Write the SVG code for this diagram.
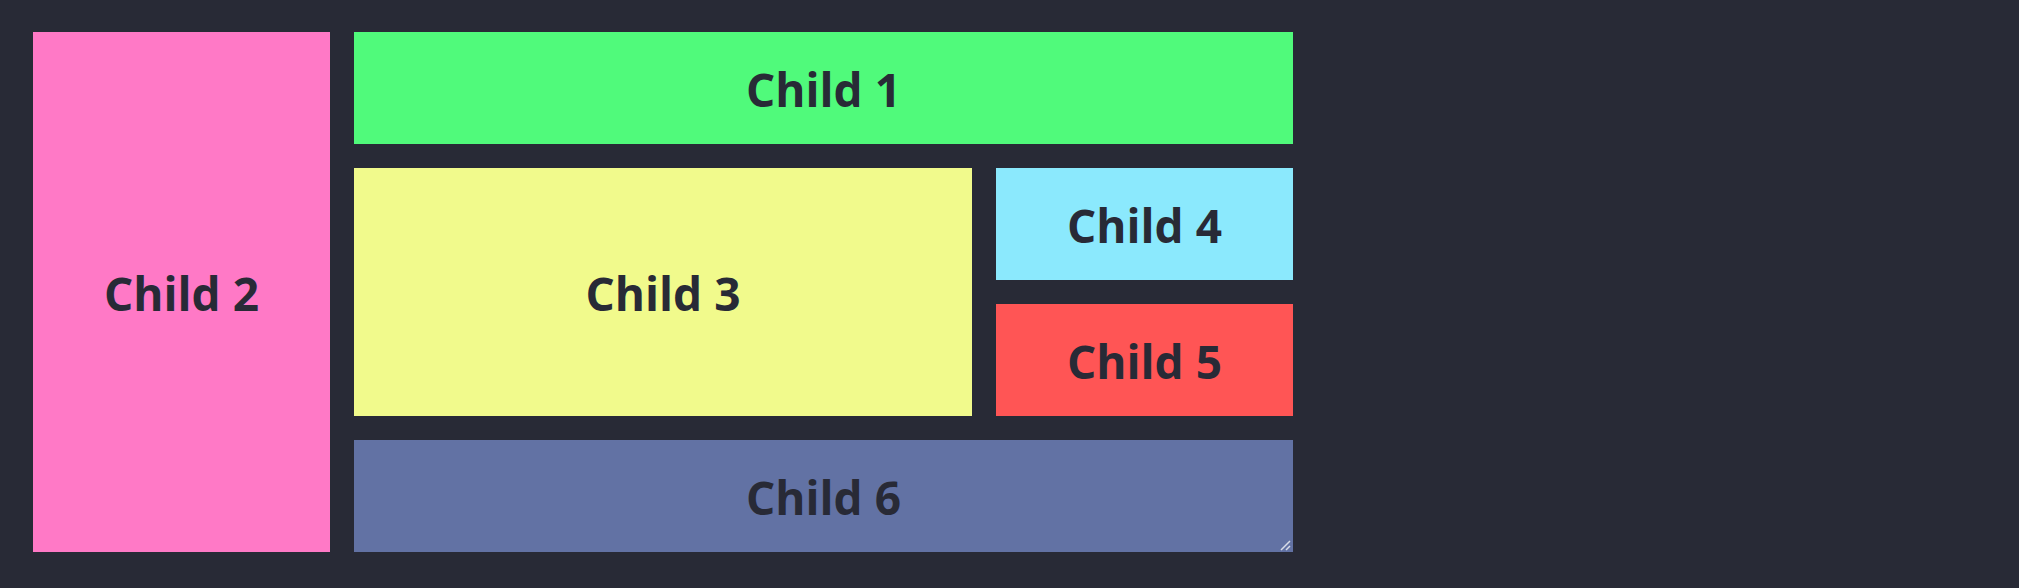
<svg xmlns="http://www.w3.org/2000/svg" width="2019" height="588" viewBox="0 0 2019 588">
<style>
.lbl{font-family:"Open Sans","Noto Sans","Liberation Sans",sans-serif;font-weight:700;font-size:46px;fill:#282a36;text-anchor:middle}
</style>
<rect x="0" y="0" width="2019" height="588" fill="#282a36"/>
<g id="child2"><rect x="33" y="32" width="297" height="520" fill="#ff79c6"/><text class="lbl" x="181.5" y="310.7">Child 2</text></g>
<g id="child1"><rect x="354" y="32" width="939" height="112" fill="#50fa7b"/><text class="lbl" x="823.5" y="106.7">Child 1</text></g>
<g id="child3"><rect x="354" y="168" width="618" height="248" fill="#f1fa8c"/><text class="lbl" x="663" y="310.7">Child 3</text></g>
<g id="child4"><rect x="996" y="168" width="297" height="112" fill="#8be9fd"/><text class="lbl" x="1144.5" y="242.7">Child 4</text></g>
<g id="child5"><rect x="996" y="304" width="297" height="112" fill="#ff5555"/><text class="lbl" x="1144.5" y="378.7">Child 5</text></g>
<g id="child6"><rect x="354" y="440" width="939" height="112" fill="#6272a4"/><text class="lbl" x="823.5" y="514.7">Child 6</text>
<path d="M1281 550 L1290 541 M1286 550 L1290 546" stroke="#d8dce8" stroke-width="1.5"/></g>
<g id="connectors"/>
</svg>
